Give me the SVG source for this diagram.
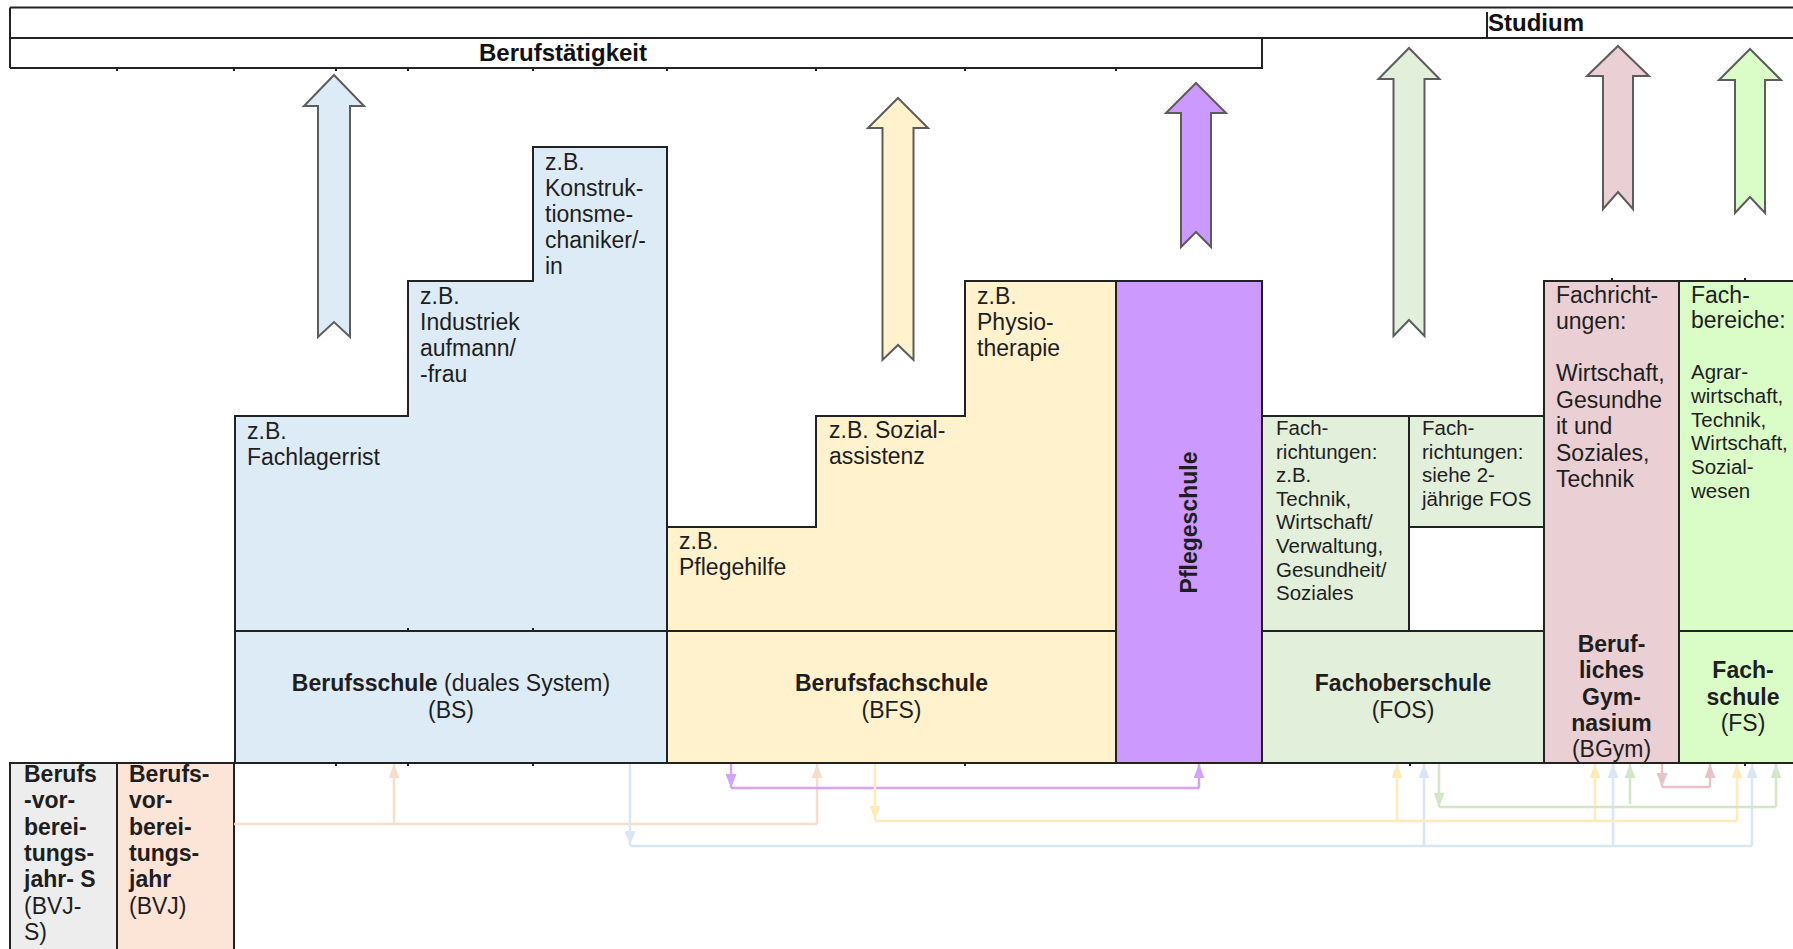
<svg xmlns="http://www.w3.org/2000/svg" width="1793" height="949" viewBox="0 0 1793 949">
<defs>
<style>
.t{font-family:"Liberation Sans",Arial,sans-serif;font-size:23px;fill:#1e1e1e}
.s{font-size:20.5px}
.b{font-weight:bold}
.h{font-family:"Liberation Sans",Arial,sans-serif;font-size:24px;font-weight:bold;fill:#111}
.ln{stroke:#222;stroke-width:2;fill:none}
.bx{stroke:#222;stroke-width:2}
.ar{stroke:#5c5c5c;stroke-width:2;stroke-linejoin:miter}
.c{fill:none;stroke-width:2.5}
</style>
<marker id="mO" viewBox="0 0 10 10" refX="10" refY="5" markerUnits="userSpaceOnUse" markerWidth="14" markerHeight="11" orient="auto" preserveAspectRatio="none"><path d="M0,0 L10,5 L0,10 Z" fill="#F9DDCB"/></marker>
<marker id="mB" viewBox="0 0 10 10" refX="10" refY="5" markerUnits="userSpaceOnUse" markerWidth="14" markerHeight="11" orient="auto" preserveAspectRatio="none"><path d="M0,0 L10,5 L0,10 Z" fill="#D8E6F6"/></marker>
<marker id="mP" viewBox="0 0 10 10" refX="10" refY="5" markerUnits="userSpaceOnUse" markerWidth="14" markerHeight="11" orient="auto" preserveAspectRatio="none"><path d="M0,0 L10,5 L0,10 Z" fill="#D3A3FF"/></marker>
<marker id="mY" viewBox="0 0 10 10" refX="10" refY="5" markerUnits="userSpaceOnUse" markerWidth="14" markerHeight="11" orient="auto" preserveAspectRatio="none"><path d="M0,0 L10,5 L0,10 Z" fill="#FFEBB8"/></marker>
<marker id="mG" viewBox="0 0 10 10" refX="10" refY="5" markerUnits="userSpaceOnUse" markerWidth="14" markerHeight="11" orient="auto" preserveAspectRatio="none"><path d="M0,0 L10,5 L0,10 Z" fill="#D3E7C8"/></marker>
<marker id="mK" viewBox="0 0 10 10" refX="10" refY="5" markerUnits="userSpaceOnUse" markerWidth="14" markerHeight="11" orient="auto" preserveAspectRatio="none"><path d="M0,0 L10,5 L0,10 Z" fill="#E8C3CA"/></marker>
</defs>
<rect width="1793" height="949" fill="#fff"/>

<g id="top">
<path class="ln" d="M10,7.5 H1793 M10,7.5 V68 M10,38 H1793 M10,68 H1262 V38 M1487,12 V38"/>
<path class="ln" stroke-width="1.5" d="M117,68 v3 M234,68 v3 M336,68 v3 M408,68 v3 M533,68 v3 M667,68 v3 M816,68 v3 M965,68 v3 M1116,68 v3"/>
<text class="h" x="563" y="61" text-anchor="middle">Berufstätigkeit</text>
<text class="h" x="1488" y="31">Studium</text>
</g>

<g id="arrows">
<path class="ar" fill="#DDEBF7" d="M334,75 L364,106 L350,106 L350,337 L334,322 L318,337 L318,106 L304,106 Z"/>
<path class="ar" fill="#FFF2CC" d="M898,98 L928,128 L913.5,128 L913.5,360 L898,345 L882.5,360 L882.5,128 L868,128 Z"/>
<path class="ar" fill="#CC99FF" d="M1196,83 L1226,113 L1211,113 L1211,247 L1196,232 L1181,247 L1181,113 L1166,113 Z"/>
<path class="ar" fill="#E2EFDA" d="M1409,48 L1439.5,79 L1424.5,79 L1424.5,336 L1409,320 L1393.5,336 L1393.5,79 L1378.5,79 Z"/>
<path class="ar" fill="#EACFD4" d="M1618,46 L1649,76 L1633,76 L1633,209 L1618,192 L1603,209 L1603,76 L1587,76 Z"/>
<path class="ar" fill="#DAFCC6" d="M1750,49 L1781,80 L1765,80 L1765,213 L1750,197 L1735,213 L1735,80 L1719,80 Z"/>
</g>

<g id="bvjs">
<rect class="bx" x="10" y="763" width="107" height="200" fill="#EDEDED"/>
<text class="t" x="24" y="782"><tspan class="b">Berufs</tspan><tspan class="b" x="24" dy="26.3">-vor-</tspan><tspan class="b" x="24" dy="26.3">berei-</tspan><tspan class="b" x="24" dy="26.3">tungs-</tspan><tspan class="b" x="24" dy="26.3">jahr- S</tspan><tspan x="24" dy="26.3">(BVJ-</tspan><tspan x="24" dy="26.3">S)</tspan></text>
</g>

<g id="bvj">
<rect class="bx" x="117" y="763" width="117" height="200" fill="#FCE4D6"/>
<text class="t" x="129" y="782"><tspan class="b">Berufs-</tspan><tspan class="b" x="129" dy="26.3">vor-</tspan><tspan class="b" x="129" dy="26.3">berei-</tspan><tspan class="b" x="129" dy="26.3">tungs-</tspan><tspan class="b" x="129" dy="26.3">jahr</tspan><tspan x="129" dy="26.3">(BVJ)</tspan></text>
</g>

<g id="bs">
<path class="bx" fill="#DDEBF7" d="M235,416 H408 V281 H533 V147 H667 V763 H235 Z"/>
<path class="ln" d="M235,631 H667"/>
<path class="ln" stroke-width="1.5" d="M408,631 v-3 M533,631 v-3 M336,763 v3 M408,763 v3 M533,763 v3"/>
<text class="t" x="247" y="439"><tspan>z.B.</tspan><tspan x="247" dy="26">Fachlagerrist</tspan></text>
<text class="t" x="420" y="304"><tspan>z.B.</tspan><tspan x="420" dy="26">Industriek</tspan><tspan x="420" dy="26">aufmann/</tspan><tspan x="420" dy="26">-frau</tspan></text>
<text class="t" x="545" y="170"><tspan>z.B.</tspan><tspan x="545" dy="26">Konstruk-</tspan><tspan x="545" dy="26">tionsme-</tspan><tspan x="545" dy="26">chaniker/-</tspan><tspan x="545" dy="26">in</tspan></text>
<text class="t" x="451" y="691" text-anchor="middle"><tspan class="b">Berufsschule</tspan> (duales System)</text>
<text class="t" x="451" y="718" text-anchor="middle">(BS)</text>
</g>

<g id="bfs">
<path class="bx" fill="#FFF2CC" d="M667,527 H816 V416 H965 V281 H1116 V763 H667 Z"/>
<path class="ln" d="M667,631 H1116"/>
<path class="ln" stroke-width="1.5" d="M965,763 v3"/>
<text class="t" x="679" y="549"><tspan>z.B.</tspan><tspan x="679" dy="26">Pflegehilfe</tspan></text>
<text class="t" x="829" y="438"><tspan>z.B. Sozial-</tspan><tspan x="829" dy="26">assistenz</tspan></text>
<text class="t" x="977" y="304"><tspan>z.B.</tspan><tspan x="977" dy="26">Physio-</tspan><tspan x="977" dy="26">therapie</tspan></text>
<text class="t b" x="891.5" y="691" text-anchor="middle">Berufsfachschule</text>
<text class="t" x="891.5" y="718" text-anchor="middle">(BFS)</text>
</g>

<g id="pflegeschule">
<rect class="bx" x="1116" y="281" width="146" height="482" fill="#CC99FF"/>
<text class="t b" transform="translate(1197,522.5) rotate(-90)" text-anchor="middle" font-size="22">Pflegeschule</text>
</g>

<g id="fos">
<rect class="bx" x="1262" y="416" width="147" height="215" fill="#E2EFDA"/>
<rect class="bx" x="1409" y="416" width="135" height="111" fill="#E2EFDA"/>
<rect class="bx" x="1262" y="631" width="282" height="132" fill="#E2EFDA"/>
<path class="ln" stroke-width="1.5" d="M1410,763 v3"/>
<text class="t s" x="1276" y="435"><tspan>Fach-</tspan><tspan x="1276" dy="23.6">richtungen:</tspan><tspan x="1276" dy="23.6">z.B.</tspan><tspan x="1276" dy="23.6">Technik,</tspan><tspan x="1276" dy="23.6">Wirtschaft/</tspan><tspan x="1276" dy="23.6">Verwaltung,</tspan><tspan x="1276" dy="23.6">Gesundheit/</tspan><tspan x="1276" dy="23.6">Soziales</tspan></text>
<text class="t s" x="1422" y="435"><tspan>Fach-</tspan><tspan x="1422" dy="23.6">richtungen:</tspan><tspan x="1422" dy="23.6">siehe 2-</tspan><tspan x="1422" dy="23.6">jährige FOS</tspan></text>
<text class="t b" x="1403" y="691" text-anchor="middle">Fachoberschule</text>
<text class="t" x="1403" y="718" text-anchor="middle">(FOS)</text>
</g>

<g id="bgym">
<rect class="bx" x="1544" y="281" width="135" height="482" fill="#EACFD4"/>
<path class="ln" stroke-width="1.5" d="M1612,281 v-3"/>
<text class="t" x="1556" y="303"><tspan>Fachricht-</tspan><tspan x="1556" dy="26">ungen:</tspan><tspan x="1556" dy="52">Wirtschaft,</tspan><tspan x="1556" dy="26.5">Gesundhe</tspan><tspan x="1556" dy="26.5">it und</tspan><tspan x="1556" dy="26.5">Soziales,</tspan><tspan x="1556" dy="26.5">Technik</tspan></text>
<text class="t b" x="1611.5" y="652" text-anchor="middle"><tspan>Beruf-</tspan><tspan x="1611.5" dy="26.3">liches</tspan><tspan x="1611.5" dy="26.3">Gym-</tspan><tspan x="1611.5" dy="26.3">nasium</tspan></text>
<text class="t" x="1611.5" y="757" text-anchor="middle">(BGym)</text>
</g>

<g id="fs">
<rect class="bx" x="1679" y="281" width="140" height="482" fill="#DAFCC6"/>
<path class="ln" d="M1679,631 H1793"/>
<path class="ln" stroke-width="1.5" d="M1745,281 v-3 M1745,763 v3"/>
<text class="t" x="1691" y="303" font-size="22.5"><tspan>Fach-</tspan><tspan x="1691" dy="25">bereiche:</tspan></text>
<text class="t s" x="1691" y="379"><tspan>Agrar-</tspan><tspan x="1691" dy="23.8">wirtschaft,</tspan><tspan x="1691" dy="23.8">Technik,</tspan><tspan x="1691" dy="23.8">Wirtschaft,</tspan><tspan x="1691" dy="23.8">Sozial-</tspan><tspan x="1691" dy="23.8">wesen</tspan></text>
<text class="t b" x="1743" y="678" text-anchor="middle"><tspan>Fach-</tspan><tspan x="1743" dy="26.5">schule</tspan></text>
<text class="t" x="1743" y="731" text-anchor="middle">(FS)</text>
</g>

<g id="connectors">
<path class="c" stroke="#F9DDCB" d="M234,824 H817"/>
<path class="c" stroke="#F9DDCB" marker-end="url(#mO)" d="M394,824 V764"/>
<path class="c" stroke="#F9DDCB" marker-end="url(#mO)" d="M817,824 V764"/>

<path class="c" stroke="#D8E6F6" marker-end="url(#mB)" d="M630,764 V845"/>
<path class="c" stroke="#D8E6F6" d="M630,846 H1752"/>
<path class="c" stroke="#D8E6F6" marker-end="url(#mB)" d="M1424,846 V764"/>
<path class="c" stroke="#D8E6F6" marker-end="url(#mB)" d="M1613,846 V764"/>
<path class="c" stroke="#D8E6F6" marker-end="url(#mB)" d="M1752,846 V764"/>

<path class="c" stroke="#D3A3FF" marker-end="url(#mP)" d="M731,764 V788"/>
<path class="c" stroke="#D3A3FF" d="M731,788 H1199"/>
<path class="c" stroke="#D3A3FF" marker-end="url(#mP)" d="M1199,788 V764"/>

<path class="c" stroke="#FFEBB8" marker-end="url(#mY)" d="M875,764 V820"/>
<path class="c" stroke="#FFEBB8" d="M875,821 H1737"/>
<path class="c" stroke="#FFEBB8" marker-end="url(#mY)" d="M1397,821 V764"/>
<path class="c" stroke="#FFEBB8" marker-end="url(#mY)" d="M1595,821 V764"/>
<path class="c" stroke="#FFEBB8" marker-end="url(#mY)" d="M1737,821 V764"/>

<path class="c" stroke="#D3E7C8" marker-end="url(#mG)" d="M1439,764 V807"/>
<path class="c" stroke="#D3E7C8" d="M1439,807 H1776"/>
<path class="c" stroke="#D3E7C8" marker-end="url(#mG)" d="M1630,804 V764"/>
<path class="c" stroke="#D3E7C8" marker-end="url(#mG)" d="M1776,807 V764"/>

<path class="c" stroke="#E8C3CA" marker-end="url(#mK)" d="M1662,764 V787"/>
<path class="c" stroke="#E8C3CA" d="M1662,787 H1710"/>
<path class="c" stroke="#E8C3CA" marker-end="url(#mK)" d="M1710,787 V764"/>
</g>
</svg>
